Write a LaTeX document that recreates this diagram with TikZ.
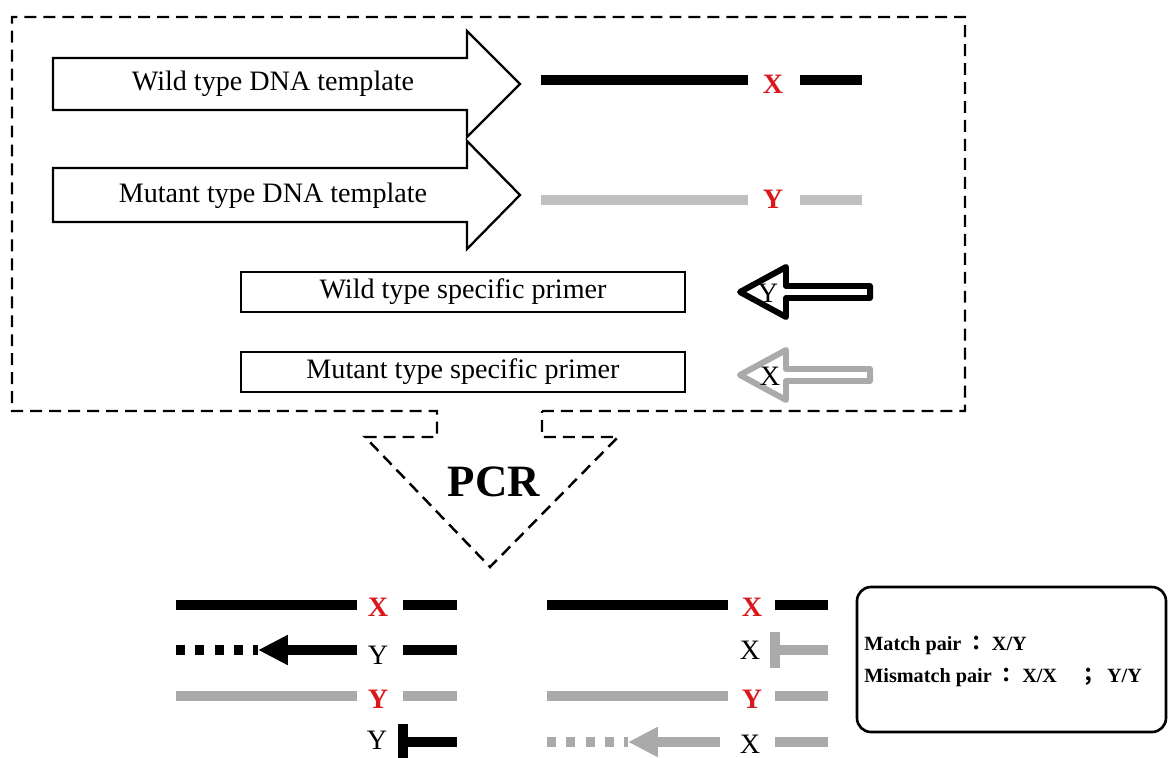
\documentclass[tikz,border=0pt]{standalone}
\usepackage{fontspec}
\setmainfont{Liberation Serif}
\newfontfamily\cjk{Noto Sans CJK TC}
\usetikzlibrary{arrows.meta}
\pgfdeclarelayer{edgelayer}
\pgfdeclarelayer{nodelayer}
\pgfsetlayers{edgelayer,nodelayer,main}
\definecolor{lgray}{RGB}{192,192,192}
\definecolor{mgray}{RGB}{170,170,170}
\definecolor{xred}{RGB}{218,24,28}
\tikzset{font=\fontsize{16}{19}\selectfont}
\tikzstyle{none}=[inner sep=0pt]
\tikzstyle{base}=[inner sep=0pt]
\tikzstyle{redbase}=[inner sep=0pt,text=xred,font=\fontsize{16}{19}\selectfont\bfseries]
\tikzstyle{primer}=[draw,line width=1.4pt,fill=white,minimum width=8.88cm,minimum height=0.8cm]
\tikzstyle{template}=[draw,line width=1.3pt,fill=white]
\tikzstyle{hollow}=[line width=3.4pt,line join=round,fill=white]
\tikzstyle{dna}=[line width=5.5pt]
\tikzstyle{dots}=[line width=5.5pt,dash pattern=on 5.1pt off 5.9pt]
\tikzstyle{headed}=[-{Triangle[length=17pt,width=16pt]}]
\tikzstyle{frame}=[line width=1.4pt,dash pattern=on 6.8pt off 4pt]
\tikzstyle{pairbox}=[draw,line width=1.5pt,rounded corners=0.28cm]
\tikzstyle{pairtext}=[inner sep=0pt,anchor=west,font=\fontsize{11.5}{14}\selectfont\bfseries]

\begin{document}
\begin{tikzpicture}[x=0.02cm,y=-0.02cm]
	\useasboundingbox (0,0) rectangle (1169,757);
	\begin{pgfonlayer}{nodelayer}
		% templates
		\node [style=base] (wt) at (273,84) {Wild type DNA template};
		\node [style=base] (mt) at (273,196) {Mutant type DNA template};
		\node [style=none] (0) at (541,80) {};
		\node [style=none] (1) at (748,80) {};
		\node [style=redbase] (2) at (773,84) {X};
		\node [style=none] (3) at (800,80) {};
		\node [style=none] (4) at (862,80) {};
		\node [style=none] (5) at (541,200) {};
		\node [style=none] (6) at (748,200) {};
		\node [style=redbase] (7) at (773,199) {Y};
		\node [style=none] (8) at (800,200) {};
		\node [style=none] (9) at (862,200) {};
		% primers
		\node [style=primer] (wp) at (463,292) {Wild type specific primer};
		\node [style=primer] (mp) at (463,372) {Mutant type specific primer};
		\node [style=base] (10) at (768,293) {Y};
		\node [style=base] (11) at (770,376) {X};
		\node [style=none,font=\fontsize{25.5}{30}\selectfont\bfseries] (pcr) at (494,482) {PCR};
		% products, left
		\node [style=none] (12) at (176,605) {};
		\node [style=none] (13) at (357,605) {};
		\node [style=redbase] (14) at (378,607) {X};
		\node [style=none] (15) at (403,605) {};
		\node [style=none] (16) at (457,605) {};
		\node [style=none] (17) at (176,650) {};
		\node [style=none] (18) at (258,650) {};
		\node [style=none] (19) at (357,650) {};
		\node [style=base] (20) at (378,655) {Y};
		\node [style=none] (21) at (403,650) {};
		\node [style=none] (22) at (457,650) {};
		\node [style=none] (23) at (176,696) {};
		\node [style=none] (24) at (357,696) {};
		\node [style=redbase] (25) at (378,699) {Y};
		\node [style=none] (26) at (403,696) {};
		\node [style=none] (27) at (457,696) {};
		\node [style=base] (28) at (377,740) {Y};
		\node [style=none] (29) at (403,724) {};
		\node [style=none] (30) at (403,762) {};
		\node [style=none] (31) at (403,742) {};
		\node [style=none] (32) at (457,742) {};
		% products, right
		\node [style=none] (33) at (547,605) {};
		\node [style=none] (34) at (728,605) {};
		\node [style=redbase] (35) at (752,607) {X};
		\node [style=none] (36) at (775,605) {};
		\node [style=none] (37) at (828,605) {};
		\node [style=base] (38) at (750,650) {X};
		\node [style=none] (39) at (775,632) {};
		\node [style=none] (40) at (775,668) {};
		\node [style=none] (41) at (775,650) {};
		\node [style=none] (42) at (828,650) {};
		\node [style=none] (43) at (547,696) {};
		\node [style=none] (44) at (728,696) {};
		\node [style=redbase] (45) at (752,699) {Y};
		\node [style=none] (46) at (775,696) {};
		\node [style=none] (47) at (828,696) {};
		\node [style=none] (48) at (547,742) {};
		\node [style=none] (49) at (628,742) {};
		\node [style=none] (50) at (720,742) {};
		\node [style=base] (51) at (750,744) {X};
		\node [style=none] (52) at (775,742) {};
		\node [style=none] (53) at (828,742) {};
		% pairs
		\node [style=pairtext] (mat) at (864,645) {Match pair {\cjk ：}\hspace{3pt}X/Y};
		\node [style=pairtext] (mis) at (864,677) {Mismatch pair {\cjk ：}\hspace{3pt}X/X\hspace{12pt}{\cjk ；}\hspace{5pt}Y/Y};
	\end{pgfonlayer}
	\begin{pgfonlayer}{edgelayer}
		\draw [style=frame] (542,411) -- (965,411) -- (965,17) -- (12,17) -- (12,411) -- (437,411) -- (437,437) -- (365,437) -- (490,567) -- (618,437) -- (542,437) -- cycle;
		\draw [style=template] (53,58) -- (467,58) -- (467,31) -- (520,84) -- (467,137) -- (467,110) -- (53,110) -- cycle;
		\draw [style=template] (53,168) -- (467,168) -- (467,141) -- (520,195) -- (467,249) -- (467,222) -- (53,222) -- cycle;
		\draw [style=hollow] (740,292) -- (786,267) -- (786,286) -- (870,286) -- (870,298) -- (786,298) -- (786,317) -- cycle;
		\draw [style=hollow,draw=mgray] (740,375) -- (786,350) -- (786,369) -- (870,369) -- (870,381) -- (786,381) -- (786,400) -- cycle;
		\draw [style=pairbox] (857,587) rectangle (1166,732);
		\draw [style=dna] (0.center) to (1.center);
		\draw [style=dna] (3.center) to (4.center);
		\draw [style=dna,lgray] (5.center) to (6.center);
		\draw [style=dna,lgray] (8.center) to (9.center);
		\draw [style=dna] (12.center) to (13.center);
		\draw [style=dna] (15.center) to (16.center);
		\draw [style=dots] (17.center) to (18.center);
		\draw [style=dna,style=headed] (19.center) to (18.center);
		\draw [style=dna] (21.center) to (22.center);
		\draw [style=dna,mgray] (23.center) to (24.center);
		\draw [style=dna,mgray] (26.center) to (27.center);
		\draw [style=dna] (29.center) to (30.center);
		\draw [style=dna] (31.center) to (32.center);
		\draw [style=dna] (33.center) to (34.center);
		\draw [style=dna] (36.center) to (37.center);
		\draw [style=dna,mgray] (39.center) to (40.center);
		\draw [style=dna,mgray] (41.center) to (42.center);
		\draw [style=dna,mgray] (43.center) to (44.center);
		\draw [style=dna,mgray] (46.center) to (47.center);
		\draw [style=dots,mgray] (48.center) to (49.center);
		\draw [style=dna,style=headed,mgray] (50.center) to (49.center);
		\draw [style=dna,mgray] (52.center) to (53.center);
	\end{pgfonlayer}
\end{tikzpicture}
\end{document}
